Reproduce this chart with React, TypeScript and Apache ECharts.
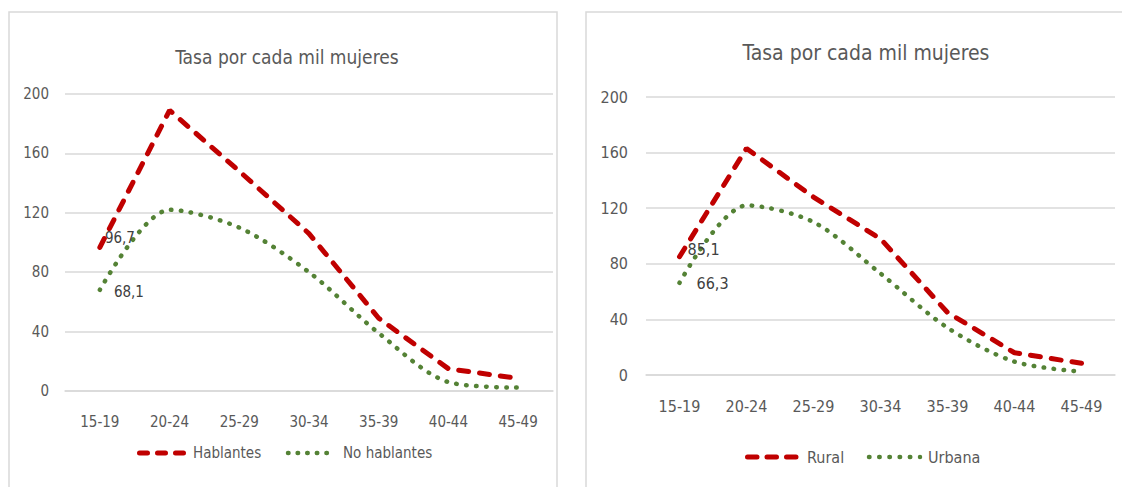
import React, { useEffect, useRef } from "react";
import * as echarts from "echarts";

const categories = ["15-19", "20-24", "25-29", "30-34", "35-39", "40-44", "45-49"];
const hablantes = [96.7, 189, 148, 106, 49, 15, 8.5];
const noHablantes = [68.1, 122, 110, 80, 39, 6, 2.3];
const rural = [85.1, 163, 128, 98, 45, 16, 8.4];
const urbana = [66.3, 122, 110, 73, 34, 9.6, 2.4];
const titleText = "Tasa por cada mil mujeres";
const legendLeft = ["Hablantes", "No hablantes"];
const legendRight = ["Rural", "Urbana"];
const yTicks = { min: 0, max: 200, interval: 40 };

const FONT = "'Liberation Sans Narrow', 'DejaVu Sans Condensed', sans-serif";
const RED = "#C00000";
const GREEN = "#548235";
const GRID_COLOR = "#d9d9d9";
const TXT = "#595959";

function fmt(v: number) {
  return String(v).replace(".", ",");
}

function withFirstLabel(
  values: number[],
  color: string,
  offset: number[],
  distance: number,
  fontSize: number
) {
  return values.map((v, i) =>
    i === 0
      ? {
          value: v,
          symbol: "circle",
          symbolSize: 0.1,
          itemStyle: { color },
          label: {
            show: true,
            position: "right",
            distance,
            offset,
            formatter: () => fmt(v),
            color: "#404040",
            fontSize,
            fontFamily: FONT,
          },
        }
      : v
  );
}

function legendGraphic(
  names: string[],
  y: number,
  redX: [number, number],
  redDash: number[],
  greenX: [number, number],
  greenDash: number[],
  textX: [number, number],
  fontSize: number
) {
  return [
    {
      type: "line",
      silent: true,
      shape: { x1: redX[0], y1: y, x2: redX[1], y2: y },
      style: { stroke: RED, lineWidth: 5, lineDash: redDash, lineCap: "round" },
    },
    {
      type: "text",
      silent: true,
      x: textX[0],
      y,
      style: { text: names[0], fill: TXT, fontSize, fontFamily: FONT, verticalAlign: "middle", align: "left" },
    },
    {
      type: "line",
      silent: true,
      shape: { x1: greenX[0], y1: y, x2: greenX[1], y2: y },
      style: { stroke: GREEN, lineWidth: 4.5, lineDash: greenDash, lineCap: "round" },
    },
    {
      type: "text",
      silent: true,
      x: textX[1],
      y,
      style: { text: names[1], fill: TXT, fontSize, fontFamily: FONT, verticalAlign: "middle", align: "left" },
    },
  ];
}

export default function App() {
  const ref = useRef<HTMLDivElement>(null);
  useEffect(() => {
    if (!ref.current) return;
    const chart = echarts.init(ref.current, undefined, { renderer: "svg" });
    const xAxisBase = (gridIndex: number, fontSize: number) => ({
      type: "category",
      gridIndex,
      data: categories,
      boundaryGap: true,
      axisLine: { show: true, lineStyle: { color: GRID_COLOR, width: 1.5 } },
      axisTick: { show: false },
      axisLabel: { color: TXT, fontSize, fontFamily: FONT, margin: 23 },
      splitLine: { show: false },
    });
    const yAxisBase = (gridIndex: number, fontSize: number, margin: number) => ({
      type: "value",
      gridIndex,
      min: yTicks.min,
      max: yTicks.max,
      interval: yTicks.interval,
      axisLine: { show: false },
      axisTick: { show: false },
      axisLabel: { color: TXT, fontSize, fontFamily: FONT, margin },
      splitLine: { show: true, lineStyle: { color: GRID_COLOR, width: 1.5 } },
    });
    const redLine = { color: RED, width: 5, type: [10, 11], cap: "round" };
    const greenLine = { color: GREEN, width: 4.5, type: [0.5, 9.5], cap: "round" };

    chart.setOption({
      animation: false,
      backgroundColor: "#ffffff",
      graphic: [
        {
          type: "rect",
          silent: true,
          shape: { x: 9, y: 12, width: 548, height: 490 },
          style: { fill: "none", stroke: GRID_COLOR, lineWidth: 1.5 },
        },
        {
          type: "rect",
          silent: true,
          shape: { x: 586, y: 12, width: 560, height: 490 },
          style: { fill: "none", stroke: GRID_COLOR, lineWidth: 1.5 },
        },
        ...legendGraphic(legendLeft, 453, [139.5, 184.5], [8, 10], [288, 335], [0.5, 9.1], [193, 343], 15),
        ...legendGraphic(legendRight, 457, [747.5, 797], [9.5, 10], [869, 920], [0.5, 9.7], [807, 928], 16),
      ],
      title: [
        {
          text: titleText,
          left: 282,
          top: 42,
          textAlign: "center",
          textStyle: { color: TXT, fontSize: 19, fontWeight: "normal", fontFamily: FONT },
        },
        {
          text: titleText,
          left: 861,
          top: 37,
          textAlign: "center",
          textStyle: { color: TXT, fontSize: 21, fontWeight: "normal", fontFamily: FONT },
        },
      ],
      grid: [
        { left: 65, top: 94, width: 488, height: 297 },
        { left: 646, top: 97, width: 469, height: 278 },
      ],
      xAxis: [xAxisBase(0, 15), xAxisBase(1, 16)],
      yAxis: [yAxisBase(0, 15, 16), yAxisBase(1, 16, 18)],
      series: [
        {
          name: "Hablantes",
          type: "line",
          xAxisIndex: 0,
          yAxisIndex: 0,
          data: withFirstLabel(hablantes, RED, [0, -9], 5, 15),
          symbol: "none",
          lineStyle: redLine,
          itemStyle: { color: RED },
          z: 3,
        },
        {
          name: "No hablantes",
          type: "line",
          xAxisIndex: 0,
          yAxisIndex: 0,
          data: withFirstLabel(noHablantes, GREEN, [9, 2], 5, 15),
          symbol: "none",
          smooth: 0.3,
          lineStyle: greenLine,
          itemStyle: { color: GREEN },
          z: 2,
        },
        {
          name: "Rural",
          type: "line",
          xAxisIndex: 1,
          yAxisIndex: 1,
          data: withFirstLabel(rural, RED, [3, -7], 5, 16),
          symbol: "none",
          lineStyle: redLine,
          itemStyle: { color: RED },
          z: 3,
        },
        {
          name: "Urbana",
          type: "line",
          xAxisIndex: 1,
          yAxisIndex: 1,
          data: withFirstLabel(urbana, GREEN, [12, 1], 5, 16),
          symbol: "none",
          smooth: 0.3,
          lineStyle: greenLine,
          itemStyle: { color: GREEN },
          z: 2,
        },
      ],
    });
    return () => chart.dispose();
  }, []);
  return (
    <div
      ref={ref}
      style={{ position: "absolute", left: 0, top: 0, width: 1122, height: 487, background: "#fff" }}
    />
  );
}
